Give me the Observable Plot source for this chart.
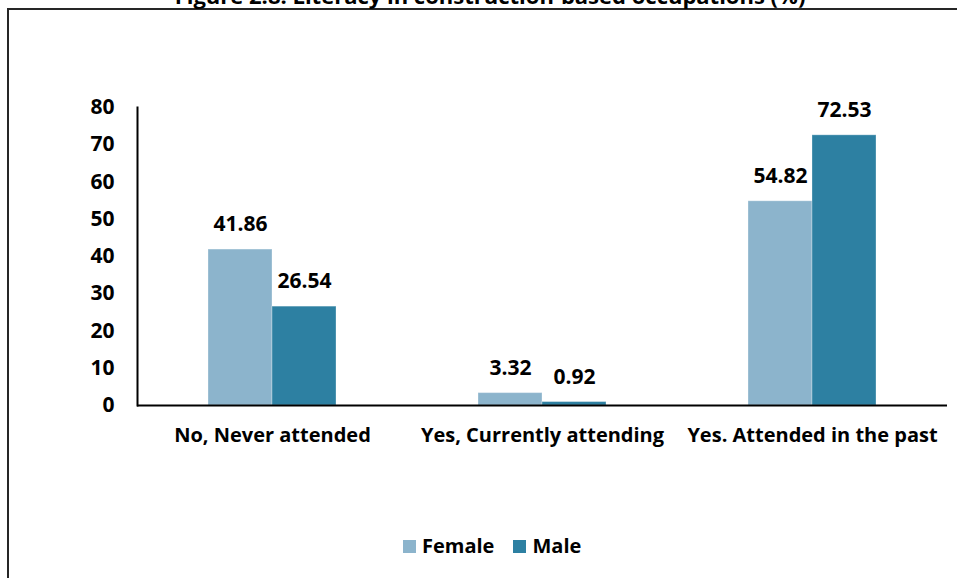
<!DOCTYPE html>
<html>
<head>
<meta charset="utf-8">
<script src="https://cdn.jsdelivr.net/npm/d3@7"></script>
<script src="https://cdn.jsdelivr.net/npm/@observablehq/plot@0.6"></script>
<style>
  html, body { margin: 0; padding: 0; background: #fff; }
  body { position: relative; width: 957px; height: 578px; overflow: hidden;
         font-family: "Open Sans", Lato, sans-serif; font-weight: bold; color: #000; }
  #box { position: absolute; left: 7px; top: 8px; width: 1000px; height: 700px;
         border: 2px solid #262626; }
  #title { position: absolute; left: 0; width: 980px; top: -16px; text-align: center;
           font-size: 22px; line-height: 22px; white-space: nowrap; }
  #chart { position: absolute; left: 0; top: 0; }
  #legend { position: absolute; left: 403px; top: 533px; display: flex; align-items: center;
            font-size: 20px; line-height: 26px; }
  #legend .item { display: flex; align-items: center; margin-right: 19px; }
  #legend .sw { width: 13px; height: 13px; margin-right: 6px; }
</style>
</head>
<body>
<div id="box"></div>
<div id="title">Figure 2.8: Literacy in construction-based occupations (%)</div>
<div id="chart"></div>
<div id="legend"></div>
<script>
// Literacy status of workers in construction-based occupations, by sex (%)
const categories = ["No, Never attended", "Yes, Currently attending", "Yes. Attended in the past"];
const series = ["Female", "Male"];
const female = [41.86, 3.32, 54.82];
const male = [26.54, 0.92, 72.53];
const yTicks = [0, 10, 20, 30, 40, 50, 60, 70, 80];
const colors = ["#8cb4cc", "#2d80a2"];

const rows = categories.flatMap((c, i) => [
  {category: c, sex: series[0], value: female[i]},
  {category: c, sex: series[1], value: male[i]}
]);

const chart = Plot.plot({
  width: 957,
  height: 470,
  marginLeft: 137,
  marginRight: 10,
  marginTop: 107,
  marginBottom: 65,
  style: {background: "transparent", fontFamily: "'Open Sans', Lato, sans-serif", fontWeight: "bold", fontSize: "20px", color: "#000"},
  fx: {domain: categories, padding: 0, label: null, axis: null},
  x: {domain: series, paddingInner: 0, paddingOuter: 1.077, axis: null},
  y: {domain: [0, 80], axis: null},
  color: {domain: series, range: colors},
  marks: [
    Plot.barY(rows, {fx: "category", x: "sex", y: "value", fill: "sex",
      stroke: "#ffffff", strokeOpacity: 0.3, strokeWidth: 1}),
    Plot.text(rows, {fx: "category", x: "sex", y: "value",
      text: d => d.value.toFixed(2), dy: -25, fill: "#000", fontSize: 21, fontWeight: "bold"}),
    Plot.ruleY([0], {stroke: "#000", strokeWidth: 2}),
    Plot.frame({anchor: "left", facet: "super", stroke: "#000", strokeWidth: 2}),
    Plot.axisY({ticks: yTicks, tickSize: 0, tickPadding: 23, tickFormat: d => String(d),
      label: null, fontSize: 21, fill: "#000"}),
    Plot.axisFx({anchor: "bottom", tickSize: 0, tickPadding: 22, label: null,
      fontSize: 20, fill: "#000"})
  ]
});
document.getElementById("chart").appendChild(chart);

// Legend built from the series names and their colours
const legend = document.getElementById("legend");
series.forEach((s, i) => {
  const item = document.createElement("div");
  item.className = "item";
  const sw = document.createElement("span");
  sw.className = "sw";
  sw.style.background = colors[i];
  const label = document.createElement("span");
  label.textContent = s;
  item.appendChild(sw);
  item.appendChild(label);
  legend.appendChild(item);
});
</script>
</body>
</html>
